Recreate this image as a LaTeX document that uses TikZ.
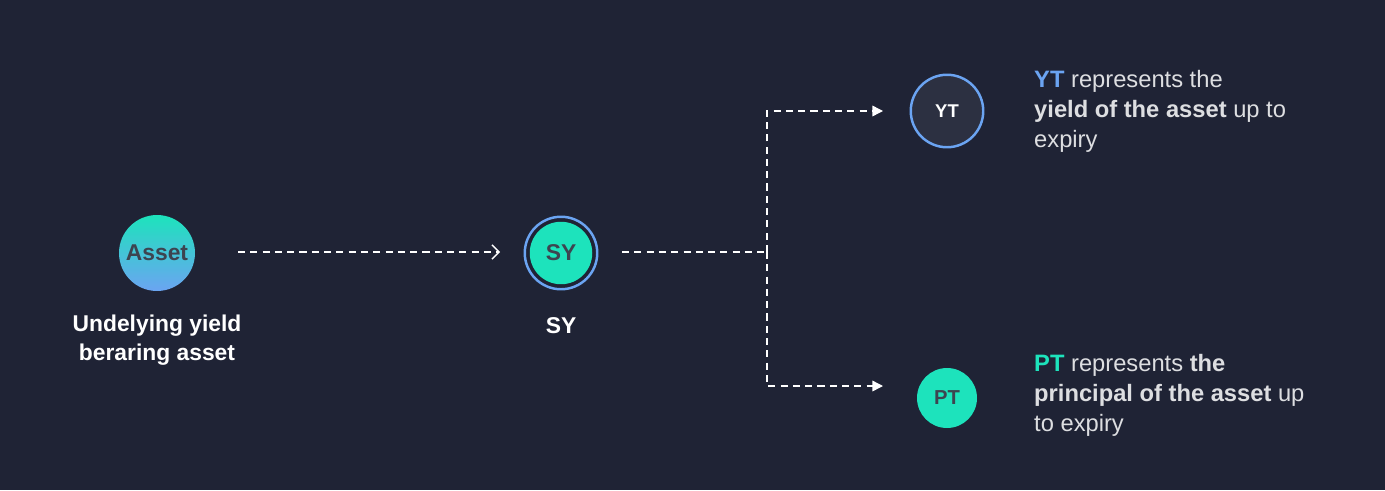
\documentclass[tikz,border=0pt]{standalone}
\usepackage{fontspec}
\setmainfont{Liberation Sans}
\usetikzlibrary{positioning,arrows.meta}
\definecolor{bgdark}{HTML}{1F2335}
\definecolor{tealc}{HTML}{1DE3BC}
\definecolor{bluec}{HTML}{6BA4F2}
\definecolor{inktext}{HTML}{3D4450}

\begin{document}
\begin{tikzpicture}[
    x=0.02cm, y=-0.02cm,
    token/.style={circle, minimum size=1.2cm, inner sep=0pt, font=\bfseries, text=inktext},
    caption/.style={align=center, font=\bfseries\fontsize{13}{16.5}\selectfont, text=white},
    note/.style={align=left, anchor=north west, font=\fontsize{13.5}{17}\selectfont, text=white!85!bgdark},
    flow/.style={white, thick, dashed, dash pattern=on 4pt off 3pt}
]
\fill[bgdark] (0,0) rectangle (1385,490);

\node[token, minimum size=1.52cm, top color=tealc, bottom color=bluec, font=\bfseries\fontsize{13}{15}\selectfont] (asset) at (157,253) {Asset};
\node[caption, below=0.35cm of asset] (assetlbl) {Undelying yield\\beraring asset};

\node[circle, draw=bluec, line width=1.4pt, minimum size=1.45cm] (syring) at (561,253) {};
\node[token, fill=tealc, minimum size=1.25cm, font=\bfseries\fontsize{13}{15}\selectfont] (sy) at (561,253) {SY};
\node[caption] (sylbl) at (561,326) {SY};

\node[token, draw=bluec, line width=1.4pt, fill=bgdark!94!white, minimum size=1.45cm, text=white, font=\bfseries\fontsize{10.5}{12}\selectfont] (yt) at (947,111) {YT};
\node[token, fill=tealc, minimum size=1.2cm, font=\bfseries\fontsize{11.5}{13}\selectfont] (pt) at (947,398) {PT};

\coordinate (split) at (767,252);
\coordinate (top) at (767,111);
\coordinate (bot) at (767,386);
\coordinate (ytin) at (883,111);
\coordinate (ptin) at (883,386);
\coordinate (assetout) at (238,252);
\coordinate (syin) at (500,252);
\coordinate (syout) at (622,252);

% Connectors
\draw[flow, -{Straight Barb[length=4pt]}] (assetout) -- (syin);
\draw[flow] (syout) -- (split);
\draw[flow, -{Triangle[length=6pt,width=6pt]}] (split) -- (top) -- (ytin);
\draw[flow, -{Triangle[length=6pt,width=6pt]}] (split) -- (bot) -- (ptin);

% Notes
\node[note] (ytnote) at (1028,64) {\textcolor{bluec}{\bfseries YT} represents the\\\textbf{yield of the asset} up to\\expiry};
\node[note] (ptnote) at (1028,348) {\textcolor{tealc}{\bfseries PT} represents \textbf{the}\\\textbf{principal of the asset} up\\to expiry};
\end{tikzpicture}
\end{document}
